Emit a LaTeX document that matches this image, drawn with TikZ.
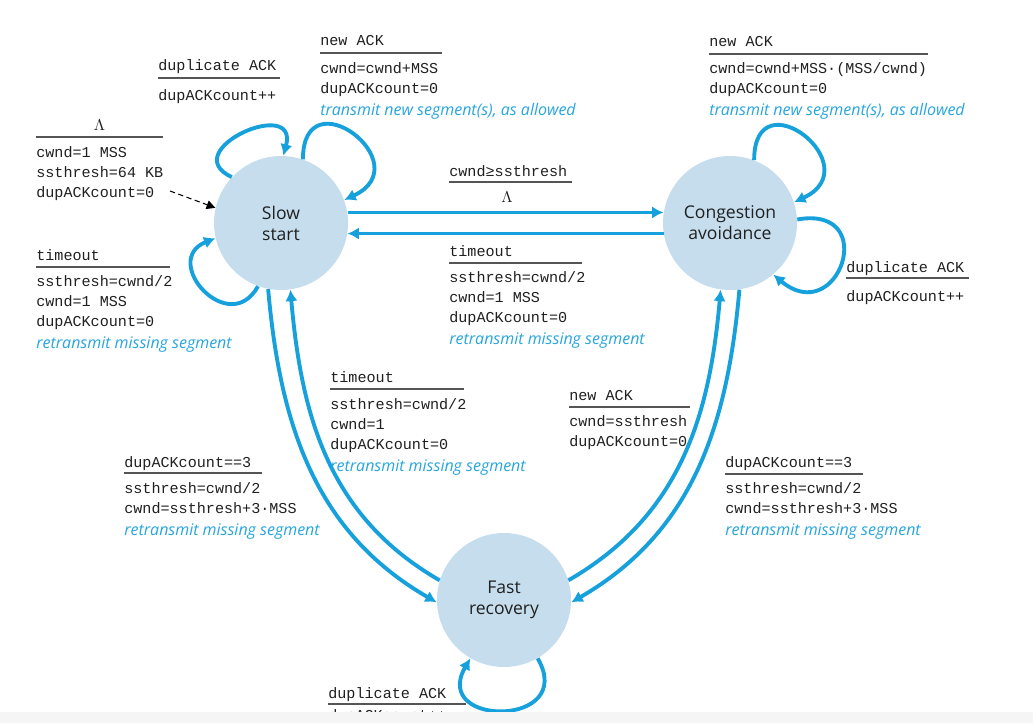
\documentclass[tikz,border=0pt]{standalone}
\usepackage{fontspec}
\setsansfont{Open Sans}
\setmonofont{Liberation Mono}
\usetikzlibrary{arrows.meta}

\definecolor{arrowblue}{RGB}{22,160,220}
\definecolor{textblue}{RGB}{38,165,222}
\definecolor{statefill}{RGB}{197,221,236}
\definecolor{inkgray}{RGB}{32,32,32}
\definecolor{rulegray}{RGB}{85,85,85}
\definecolor{bandgray}{RGB}{245,245,245}

\newcommand{\actnote}[1]{{\color{textblue}\sffamily\itshape\fontsize{9.1}{11}\selectfont #1}}

\begin{document}
\begin{tikzpicture}[x=0.02cm, y=0.02cm, line join=round,
	state/.style={circle, fill=statefill, minimum size=2.68cm, inner sep=0pt, align=center,
		text=inkgray, font=\sffamily\fontsize{10}{12}\selectfont},
	ev/.style={anchor=base west, inner sep=0pt, text=inkgray, font=\ttfamily\fontsize{8.6}{11.3}\selectfont},
	act/.style={ev, anchor=north west, align=left, execute at begin node=\strut},
	bar/.style={draw=rulegray, line width=1pt},
	trans/.style={draw=arrowblue, line width=2.2pt, -{Latex[length=6.5pt,width=7pt]}}]
	
	\useasboundingbox (0,0) rectangle (1033,-723);
	
	% The three states
	\node[state] (ss) at (281,-223) {Slow\\start};
	\node[state] (ca) at (730,-223) {Congestion\\avoidance};
	\node[state] (fr) at (504,-600) {Fast\\recovery};
	
	% Initial transition
	\node[ev, anchor=base] (init) at (99.5,-130) {$\Lambda$};
	\draw[bar] (36,-137) -- (163,-137);
	\node[act] (initact) at (36,-146) {cwnd=1 MSS\\ssthresh=64 KB\\dupACKcount=0};
	\coordinate (initpt) at (170,-191);
	\draw[line width=0.6pt, dash pattern=on 3pt off 2pt, -{Triangle[length=5pt,width=5pt]}] (initpt) -- (ss.167);
	
	% Self loops of slow start
	\draw[trans] (ss.137) to[out=155, in=75, distance=1.25cm] (ss.88);
	\draw[trans] (ss.71) to[out=90, in=25, distance=1.7cm] (ss.20);
	\draw[trans] (ss.250) to[out=241, in=202, distance=1.2cm] (ss.193);
	
	% Self loops of congestion avoidance
	\draw[trans] (ca.69) to[out=90, in=25, distance=1.7cm] (ca.18);
	\draw[trans] (ca.3) to[out=10, in=-40, distance=1.7cm] (ca.-50);
	
	% Slow start <-> congestion avoidance
	\draw[trans] (ss.9) -- (ca.171);
	\draw[trans] (ca.189) -- (ss.-9);
	
	% To and from fast recovery
	\draw[trans] (ss.-101) to[out=-85, in=150] (fr.182);
	\draw[trans] (fr.163) to[out=150, in=-85] (ss.-82);
	\draw[trans] (ca.-82) to[out=-95, in=30] (fr.-2);
	\draw[trans] (fr.17) to[out=30, in=-95] (ca.-98);
	
	% Labels around slow start
	\node[ev] (ssdup) at (158,-71) {duplicate ACK};
	\draw[bar] (158,-78) -- (280,-78);
	\node[act] (ssdupact) at (158,-86) {dupACKcount++};
	
	\node[ev] (ssnew) at (320,-46) {new ACK};
	\draw[bar] (320,-53) -- (442,-53);
	\node[act] (ssnewact) at (320,-62) {cwnd=cwnd+MSS\\dupACKcount=0\\[1.5pt]\actnote{transmit new segment(s), as allowed}};
	
	\node[ev] (sstime) at (36,-260) {timeout};
	\draw[bar] (36,-267) -- (170,-267);
	\node[act] (sstimeact) at (36,-275) {ssthresh=cwnd/2\\cwnd=1 MSS\\dupACKcount=0\\[1.5pt]\actnote{retransmit missing segment}};
	
	% Labels between slow start and congestion avoidance
	\node[ev] (thresh) at (449,-176) {cwnd≥ssthresh};
	\draw[bar] (449,-182) -- (572,-182);
	\node[ev, anchor=base] (threshact) at (507,-202) {$\Lambda$};
	
	\node[ev] (catime) at (449,-256) {timeout};
	\draw[bar] (449,-263) -- (582,-263);
	\node[act] (catimeact) at (449,-271) {ssthresh=cwnd/2\\cwnd=1 MSS\\dupACKcount=0\\[1.5pt]\actnote{retransmit missing segment}};
	
	% Labels around congestion avoidance
	\node[ev] (canew) at (709,-47) {new ACK};
	\draw[bar] (709,-54) -- (928,-54);
	\node[act] (canewact) at (709,-62) {cwnd=cwnd+MSS·(MSS/cwnd)\\dupACKcount=0\\[1.5pt]\actnote{transmit new segment(s), as allowed}};
	
	\node[ev] (cadup) at (846,-272) {duplicate ACK};
	\draw[bar] (846,-278) -- (969,-278);
	\node[act] (cadupact) at (846,-287) {dupACKcount++};
	
	% Labels of the transitions with fast recovery
	\node[ev] (frtime) at (330,-382) {timeout};
	\draw[bar] (330,-389) -- (464,-389);
	\node[act] (frtimeact) at (330,-398) {ssthresh=cwnd/2\\cwnd=1\\dupACKcount=0\\[1.5pt]\actnote{retransmit missing segment}};
	
	\node[ev] (ssdup3) at (124,-467) {dupACKcount==3};
	\draw[bar] (124,-473) -- (262,-473);
	\node[act] (ssdup3act) at (124,-482) {ssthresh=cwnd/2\\cwnd=ssthresh+3·MSS\\[1.5pt]\actnote{retransmit missing segment}};
	
	\node[ev] (frnew) at (569,-400) {new ACK};
	\draw[bar] (569,-407) -- (690,-407);
	\node[act] (frnewact) at (569,-415) {cwnd=ssthresh\\dupACKcount=0};
	
	\node[ev] (cadup3) at (725,-467) {dupACKcount==3};
	\draw[bar] (725,-474) -- (863,-474);
	\node[act] (cadup3act) at (725,-482) {ssthresh=cwnd/2\\cwnd=ssthresh+3·MSS\\[1.5pt]\actnote{retransmit missing segment}};
	
	% Bottom of the page is cut off below this line
	\begin{scope}
		\clip (0,0) rectangle (1033,-712);
		\draw[trans] (fr.-60) to[out=-60, in=240, distance=1.6cm] (fr.-120);
		\node[ev] (frdup) at (328,-698) {duplicate ACK};
		\draw[bar] (328,-704) -- (466,-704);
		\node[act] (frdupact) at (328,-706) {dupACKcount++};
	\end{scope}
	\fill[bandgray] (0,-712) rectangle (1033,-723);
	
\end{tikzpicture}
\end{document}
